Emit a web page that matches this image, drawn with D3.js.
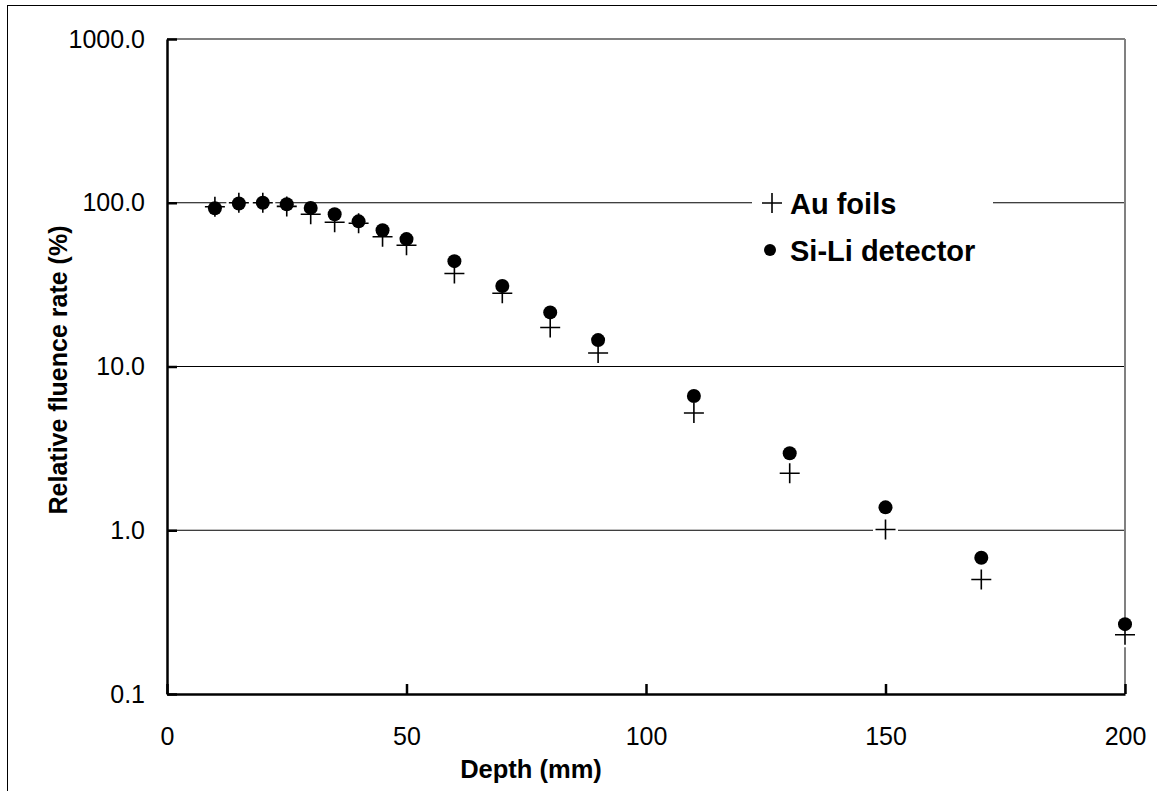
<!DOCTYPE html>
<html><head><meta charset="utf-8">
<script src="https://cdn.jsdelivr.net/npm/d3@7"></script>
<style>body{margin:0;background:#fff}svg{display:block}text{font-family:"Liberation Sans",Arial,sans-serif}</style>
</head><body><svg id="c" width="1157" height="791"></svg>
<script>
const depth = [10,15,20,25,30,35,40,45,50,60,70,80,90,110,130,150,170,200];
const auFoils = [94.5,100,100,95,85,76,75,62,55,37,28,17.3,12.1,5.2,2.23,1.01,0.50,0.23];
const siLi = [92.5,99,100,98,93,85,77,68,60,44,31,21.4,14.5,6.6,2.95,1.38,0.68,0.267];
const yTicks = [0.1,1,10,100,1000];
const xTicks = [0,50,100,150,200];
const seriesNames = ["Au foils","Si-Li detector"];

const svg = d3.select("#c");
const L=167,R=1125,T=39,B=694;
const x = d3.scaleLinear().domain([0,200]).range([L,R]);
const y = d3.scaleLog().domain([0.1,1000]).range([B,T]);

// outer frame
svg.append("rect").attr("x",7.5).attr("y",5.5).attr("width",1200).attr("height",900)
  .attr("fill","#fff").attr("stroke","#000").attr("stroke-width",1);

// gridlines
svg.append("g").selectAll("line").data(yTicks.filter(v=>v>0.1&&v<1000)).join("line")
  .attr("x1",L).attr("x2",R).attr("y1",d=>y(d)).attr("y2",d=>y(d))
  .attr("stroke","#000").attr("stroke-width",1);

// plot border top/right gray
svg.append("line").attr("x1",L).attr("x2",R).attr("y1",T).attr("y2",T).attr("stroke","#808080").attr("stroke-width",2);
svg.append("line").attr("x1",R).attr("x2",R).attr("y1",T).attr("y2",B).attr("stroke","#808080").attr("stroke-width",2);

// axes
const yAxis = d3.axisLeft(y).tickValues(yTicks).tickSizeInner(-10).tickSizeOuter(0).tickPadding(22).tickFormat(d3.format(".1f"));
const gy = svg.append("g").attr("transform",`translate(${L},0)`).call(yAxis);
const xAxis = d3.axisBottom(x).tickValues(xTicks).tickSizeInner(-10).tickSizeOuter(0).tickPadding(33).tickFormat(d3.format("d"));
const gx = svg.append("g").attr("transform",`translate(0,${B})`).call(xAxis);
[gy,gx].forEach(g=>{
  g.select(".domain").attr("stroke","#000").attr("stroke-width",2.5);
  g.selectAll(".tick line").attr("stroke","#000").attr("stroke-width",2.5);
  g.selectAll(".tick text").attr("font-size",25).attr("fill","#000").attr("font-family","Liberation Sans, Arial, sans-serif");
});

// axis titles
svg.append("text").attr("x",531).attr("y",778).attr("text-anchor","middle")
  .attr("font-size",25.5).attr("font-weight","bold").text("Depth (mm)");
svg.append("text").attr("transform",`translate(67,370) rotate(-90)`).attr("text-anchor","middle")
  .attr("font-size",25).attr("font-weight","bold").text("Relative fluence rate (%)");

// legend background
svg.append("rect").attr("x",752).attr("y",185).attr("width",241).attr("height",90).attr("fill","#fff");

function plus(g, cx, cy, s){
  g.append("path").attr("d",`M${cx-s},${cy}H${cx+s}M${cx},${cy-s}V${cy+s}`)
    .attr("stroke","#fff").attr("stroke-width",5).attr("stroke-linecap","square").attr("fill","none");
  g.append("path").attr("d",`M${cx-s},${cy}H${cx+s}M${cx},${cy-s}V${cy+s}`)
    .attr("stroke","#000").attr("stroke-width",1.6).attr("fill","none");
}

const gp = svg.append("g");
depth.forEach((d,i)=>plus(gp, x(d), y(auFoils[i]), 10));
svg.append("g").selectAll("circle").data(depth).join("circle")
  .attr("cx",d=>x(d)).attr("cy",(d,i)=>y(siLi[i])).attr("r",7).attr("fill","#000");

// legend
const lg = svg.append("g");
plus(lg, 772, 203, 10);
lg.append("circle").attr("cx",770).attr("cy",250).attr("r",6).attr("fill","#000");
lg.append("text").attr("x",790).attr("y",214).attr("font-size",29).attr("font-weight","bold").text(seriesNames[0]);
lg.append("text").attr("x",790).attr("y",261).attr("font-size",29).attr("font-weight","bold").text(seriesNames[1]);
</script></body></html>
